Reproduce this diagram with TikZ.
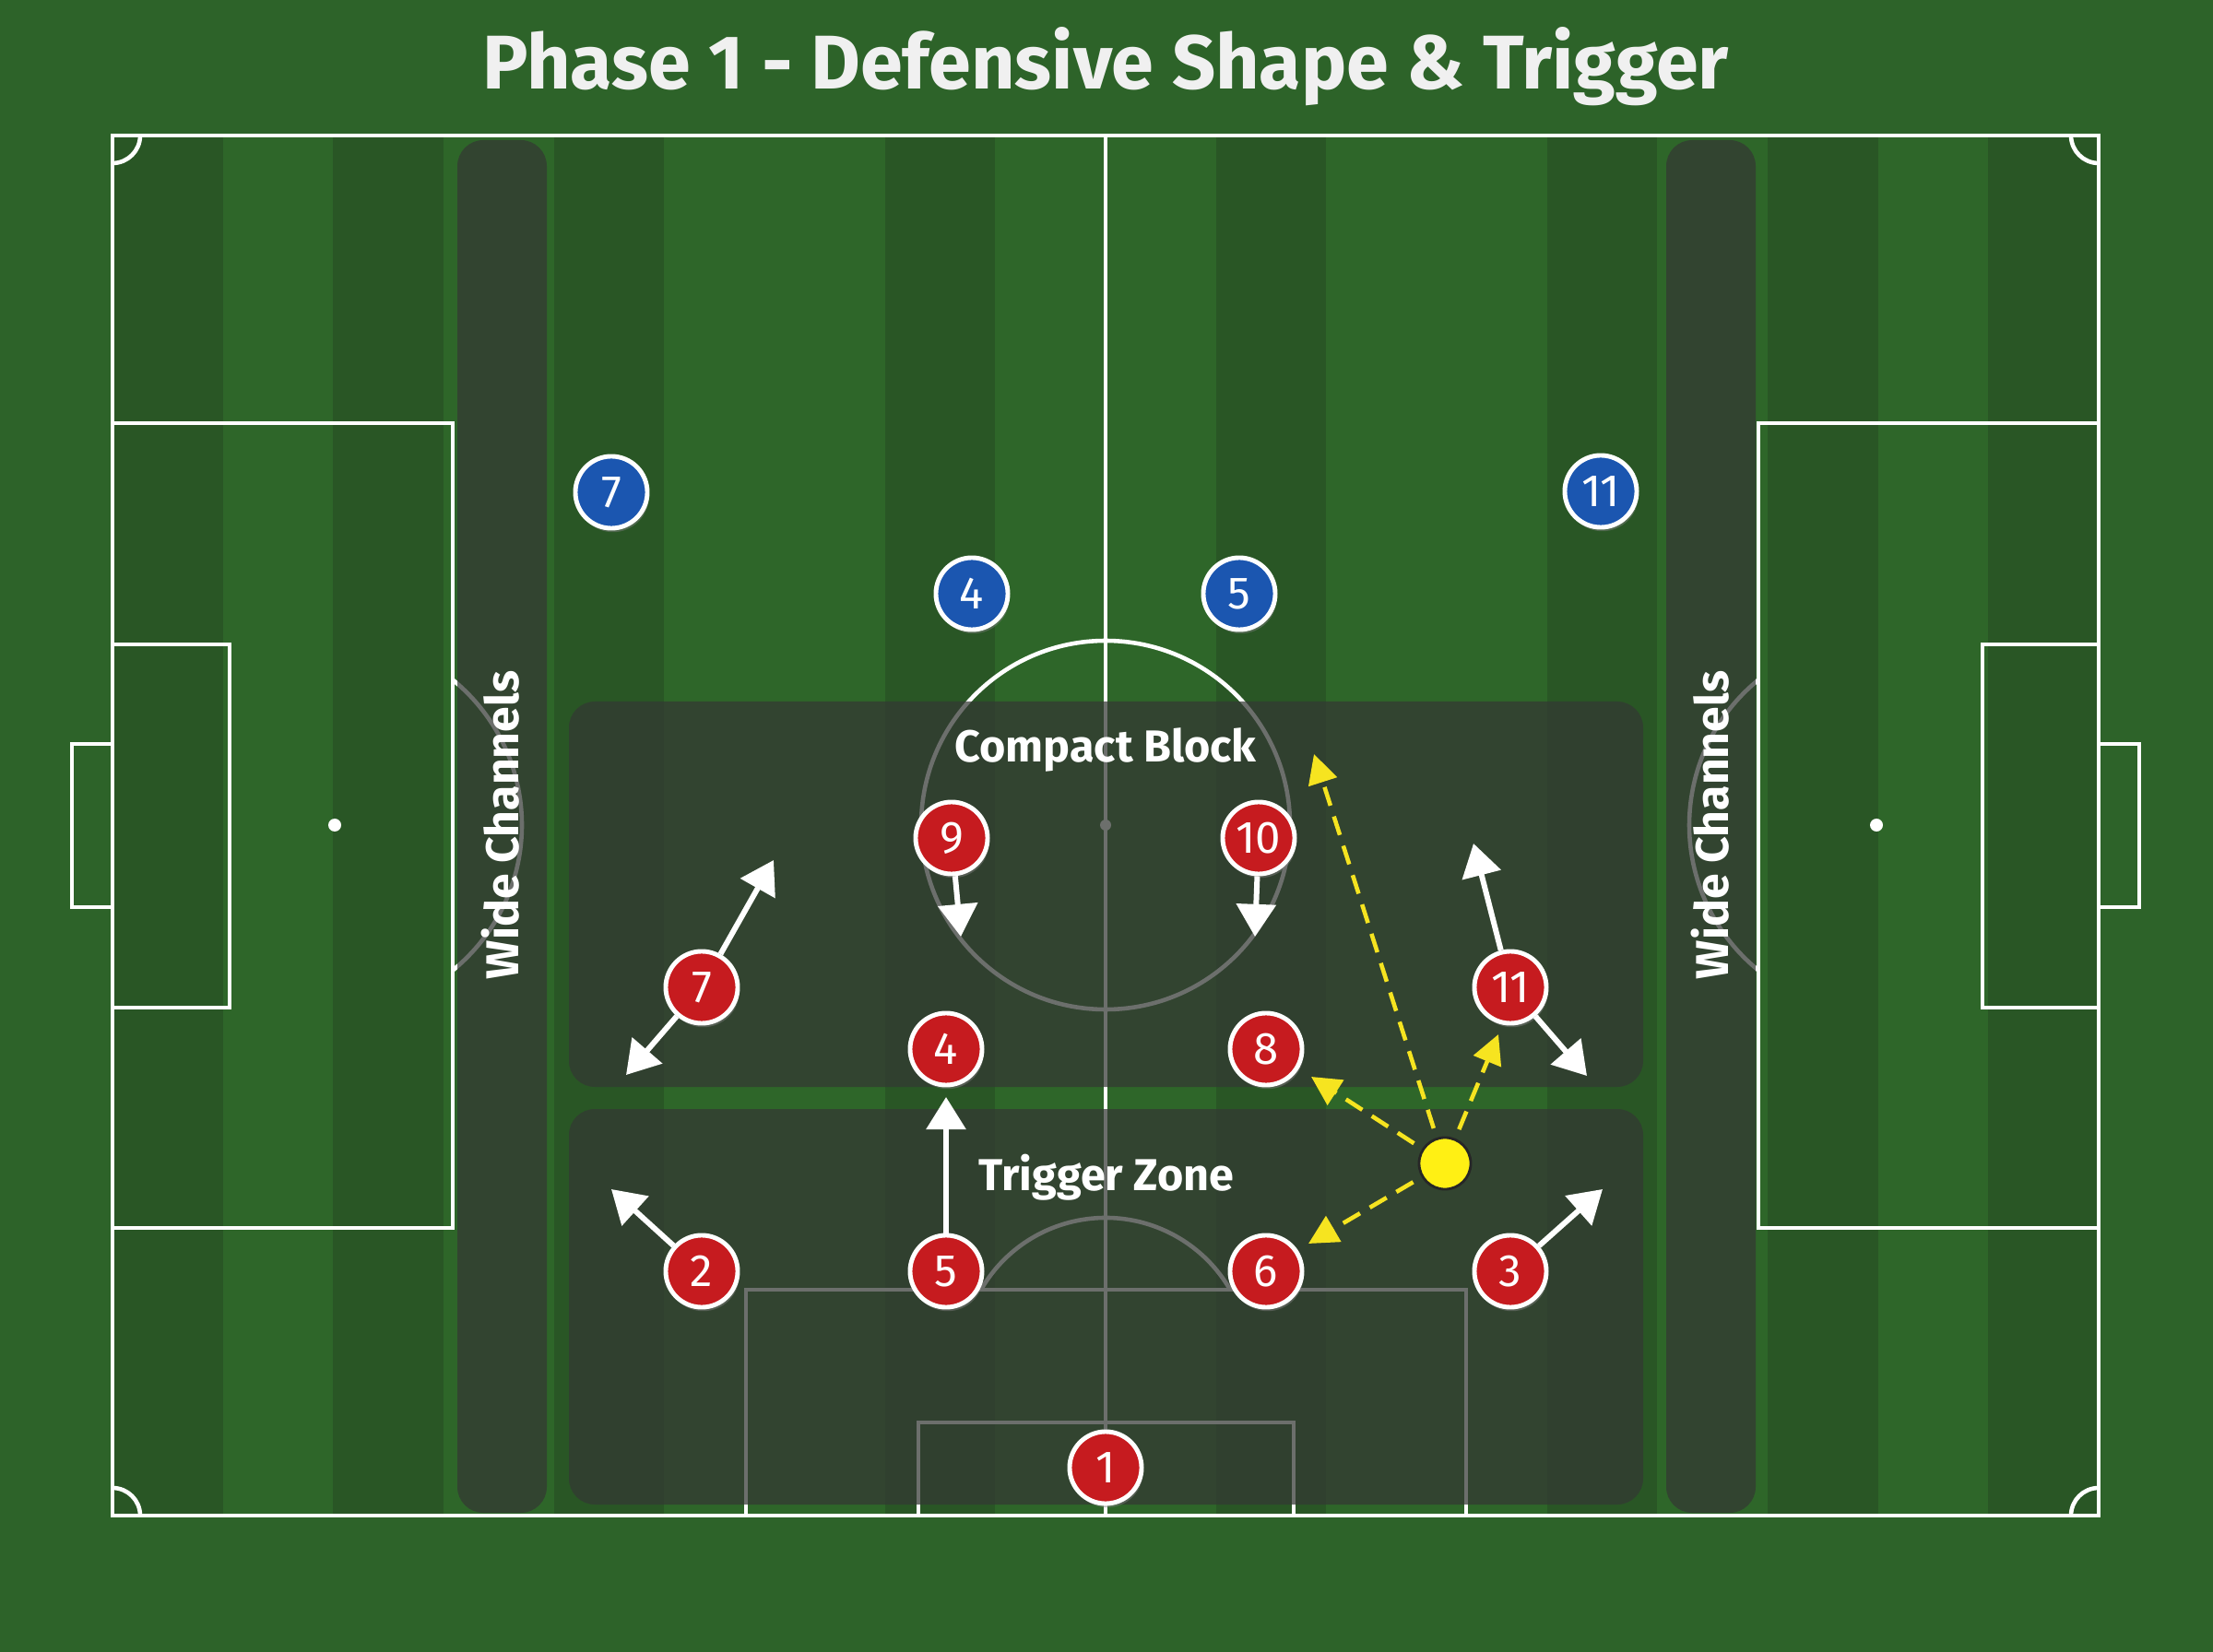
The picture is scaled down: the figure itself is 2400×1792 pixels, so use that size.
\documentclass[tikz,border=0pt]{standalone}
\usepackage{fontspec}
\setmainfont{Fira Sans}
\usepackage{tikz}
\usetikzlibrary{arrows.meta, shadows}

\definecolor{grass}{RGB}{45,99,41}
\definecolor{grasslight}{RGB}{46,102,41}
\definecolor{grassdark}{RGB}{41,86,37}
\definecolor{zonegray}{RGB}{52,56,52}
\definecolor{homered}{RGB}{198,27,31}
\definecolor{awayblue}{RGB}{27,86,176}
\definecolor{passyellow}{RGB}{246,228,32}
\definecolor{ballyellow}{RGB}{255,240,20}

\begin{document}
\begin{tikzpicture}[x=0.01cm,y=-0.01cm,>={Triangle[length=10pt,width=12pt]},semithick]
    \tikzset{
        pitchline/.style={draw=white,line width=1.3pt},
        zonefill/.style={fill=zonegray,fill opacity=0.72,rounded corners=8pt},
        player/.style={circle,draw=white,line width=1.4pt,minimum size=0.78cm,inner sep=0pt,
            text=white,font=\fontsize{14}{14}\selectfont,
            drop shadow={opacity=0.45,shadow xshift=0.5pt,shadow yshift=-1.2pt}},
        home/.style={player,fill=homered},
        away/.style={player,fill=awayblue},
        move/.style={->,draw=white,line width=1.7pt},
        pass/.style={->,draw=passyellow,line width=1.3pt,dash pattern=on 6pt off 3.5pt,
            shorten <=3pt,>={Triangle[length=9pt,width=9pt]}},
        zonetext/.style={text=white,font=\bfseries\fontsize{13.8}{13.8}\selectfont},
        sidetext/.style={text=white,rotate=90,font=\bfseries\fontsize{14.2}{14.2}\selectfont}
    }

    \fill[grass] (0,0) rectangle (2400,1792);
    \fill[grasslight] (122,147) rectangle (2276,1644);
    \foreach \k in {0,2,4,7,10,13,15,17}
        \fill[grassdark] ({122+119.67*\k},147) rectangle ({122+119.67*(\k+1)},1644);

    \draw[pitchline] (122,147) rectangle (2276,1644);
    \draw[pitchline] (1199,147) -- (1199,1644);
    \draw[pitchline] (1199,895) circle[radius=200];
    \fill[white] (1199,895) circle[radius=6];
    \draw[pitchline] (122,459) rectangle (491,1332);
    \draw[pitchline] (122,699) rectangle (249,1093);
    \draw[pitchline] (122,807) -| (78,984) -- (122,984);
    \fill[white] (363,895) circle[radius=7];
    \draw[pitchline] (363,895) ++(-51:203) arc[start angle=-51,end angle=51,radius=203];
    \draw[pitchline] (1907,459) rectangle (2276,1332);
    \draw[pitchline] (2150,699) rectangle (2276,1093);
    \draw[pitchline] (2276,807) -| (2320,984) -- (2276,984);
    \fill[white] (2035,895) circle[radius=7];
    \draw[pitchline] (2035,895) ++(129:203) arc[start angle=129,end angle=231,radius=203];
    \draw[pitchline] (152,147) arc[start angle=0,end angle=90,radius=30];
    \draw[pitchline] (2246,147) arc[start angle=180,end angle=90,radius=30];
    \draw[pitchline] (152,1644) arc[start angle=0,end angle=-90,radius=30];
    \draw[pitchline] (2246,1644) arc[start angle=180,end angle=270,radius=30];
    \draw[pitchline] (809,1644) |- (1590,1399) -- (1590,1644);
    \draw[pitchline] (996,1644) |- (1403,1543) -- (1403,1644);
    \draw[pitchline] (1199,1477) ++(-150:156) arc[start angle=-150,end angle=-30,radius=156];

    \fill[zonefill] (496,152) rectangle (593,1641);
    \fill[zonefill] (1807,152) rectangle (1904,1641);
    \fill[zonefill] (617,761) rectangle (1782,1179);
    \fill[zonefill] (617,1203) rectangle (1782,1632);

    \node[text=white!94!black,font=\bfseries\fontsize{23.5}{23.5}\selectfont] (title) at (1199,72) {Phase 1 - Defensive Shape \& Trigger};
    \node[zonetext] (block) at (1199,813) {Compact Block};
    \node[zonetext] (trig) at (1200,1277) {Trigger Zone};
    \node[sidetext] (wideL) at (543,895) {Wide Channels};
    \node[sidetext] (wideR) at (1855,895) {Wide Channels};

    \node[away] (B7)  at (663,534)  {7};
    \node[away] (B4)  at (1054,644) {4};
    \node[away] (B5)  at (1344,644) {5};
    \node[away] (B11) at (1736,533) {11};

    \node[home] (R9)  at (1032,909)  {9};
    \node[home] (R10) at (1365,909)  {10};
    \node[home] (R7)  at (761,1071)  {7};
    \node[home] (R11) at (1638,1071) {11};
    \node[home] (R4)  at (1026,1138) {4};
    \node[home] (R8)  at (1373,1138) {8};
    \node[home] (R2)  at (761,1379)  {2};
    \node[home] (R5)  at (1026,1379) {5};
    \node[home] (R6)  at (1373,1379) {6};
    \node[home] (R3)  at (1638,1379) {3};
    \node[home] (R1)  at (1199,1592) {1};

    \node[circle,fill=ballyellow,draw=black!85,line width=0.8pt,minimum size=0.56cm,inner sep=0pt] (Ball) at (1567,1262) {};

    \coordinate (T7a)  at (839,933);
    \coordinate (T7b)  at (679,1166);
    \coordinate (T9)   at (1042,1016);
    \coordinate (T10)  at (1361,1016);
    \coordinate (T11a) at (1598,915);
    \coordinate (T11b) at (1721,1167);
    \coordinate (T5)   at (1026,1190);
    \coordinate (T2)   at (663,1290);
    \coordinate (T3)   at (1738,1290);
    \coordinate (P1) at (1425,818);
    \coordinate (P2) at (1625,1122);
    \coordinate (P3) at (1422,1168);
    \coordinate (P4) at (1419,1349);

    \path (R7)  edge[move] (T7a);
    \path (R7)  edge[move] (T7b);
    \path (R9)  edge[move] (T9);
    \path (R10) edge[move] (T10);
    \path (R11) edge[move] (T11a);
    \path (R11) edge[move] (T11b);
    \path (R5)  edge[move] (T5);
    \path (R2)  edge[move] (T2);
    \path (R3)  edge[move] (T3);

    \path (Ball) edge[pass] (P1);
    \path (Ball) edge[pass] (P2);
    \path (Ball) edge[pass] (P3);
    \path (Ball) edge[pass] (P4);
\end{tikzpicture}
\end{document}
